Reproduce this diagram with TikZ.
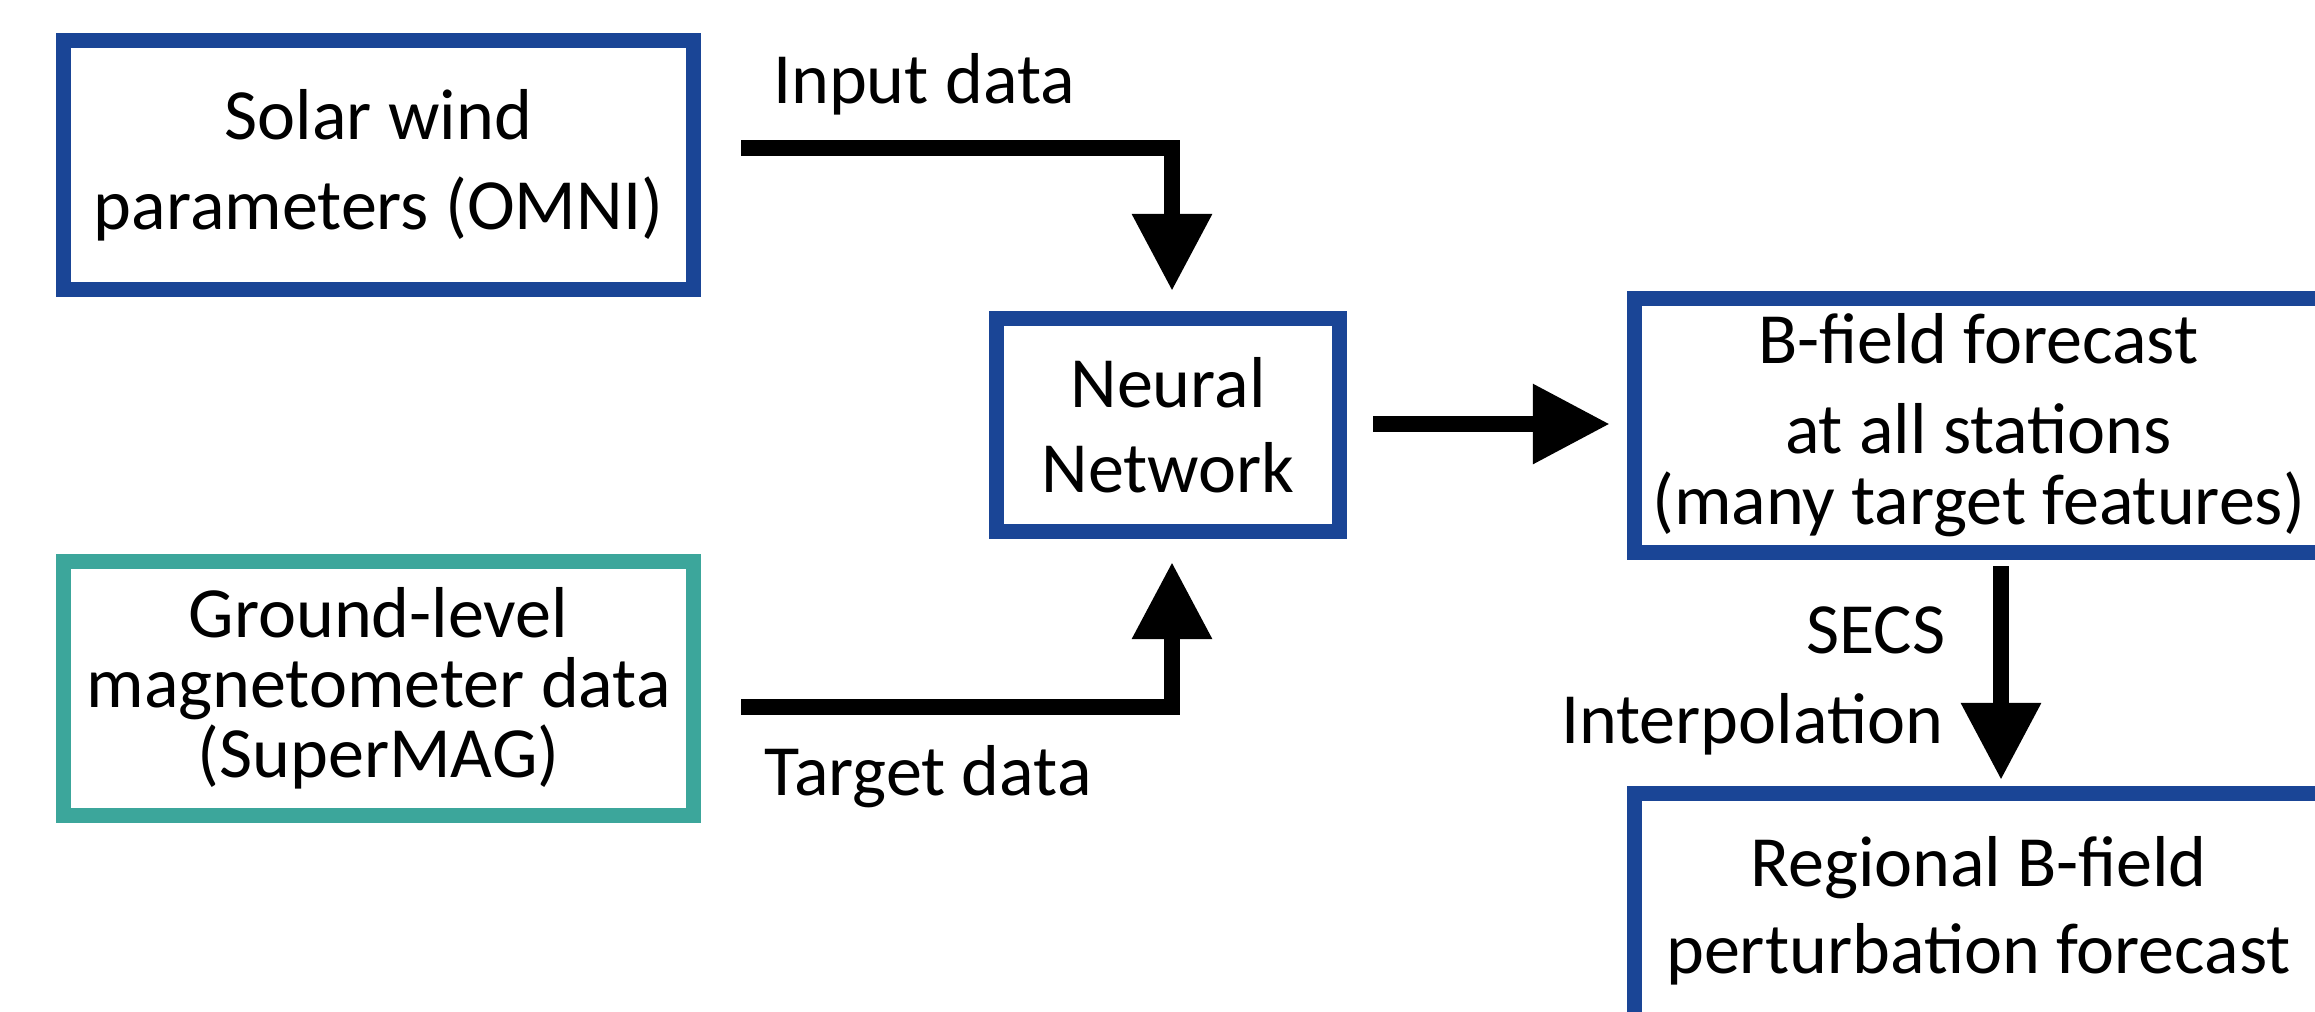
\documentclass[tikz,border=0pt]{standalone}
\usepackage{fontspec}
\setmainfont{Carlito}
\usetikzlibrary{arrows.meta,calc}
\definecolor{boxblue}{RGB}{26,69,150}
\definecolor{boxteal}{RGB}{60,166,155}
\tikzset{box/.style={draw=boxblue, line width=1.5mm, inner sep=0pt, align=center},
  flow/.style={line width=1.6mm, -{Triangle[length=7.7mm,width=7.6mm]}},
  lbl/.style={inner sep=0pt, font=\fontsize{20.5pt}{24pt}\selectfont}}

\begin{document}
\begin{tikzpicture}[x=0.01cm,y=0.01cm]
\useasboundingbox (0,0) rectangle (2315,-1011);
\clip (0,0) rectangle (2315,-1011);
% data sources
\node[box, minimum width=6.3cm, minimum height=2.49cm, font=\fontsize{20.5pt}{25.6pt}\selectfont] (solar) at (378.5,-165) {Solar wind\\parameters (OMNI)};
\node[box, draw=boxteal, minimum width=6.3cm, minimum height=2.54cm, font=\fontsize{20.5pt}{19.9pt}\selectfont] (ground) at (378.5,-688.5) {Ground-level\\magnetometer data\\(SuperMAG)};
% model
\node[box, minimum width=3.43cm, minimum height=2.13cm, font=\fontsize{20.5pt}{24.2pt}\selectfont] (net) at (1168,-425) {Neural\\Network};
% outputs
\node[box, minimum width=6.88cm, minimum height=2.54cm, font=\fontsize{20.5pt}{20.2pt}\selectfont] (bfield) at (1978.5,-425.5) {B-field forecast\\[5.4pt]at all stations\\(many target features)};
\node[box, minimum width=6.88cm, minimum height=2.35cm, font=\fontsize{20.5pt}{24.7pt}\selectfont] (regional) at (1978.5,-911) {Regional B-field\\perturbation forecast};
% arrows
\draw[flow] ($(solar.east)+(40,17)$) -| ($(net.north)+(4,20)$);
\draw[flow] ($(ground.east)+(40,-18.5)$) -| ($(net.south)+(4,-23)$);
\draw[flow] ($(net.east)+(26,1)$) -- ($(bfield.west)+(-17,1.5)$);
\draw[flow] ($(bfield.south)+(22.5,-6)$) -- ($(regional.north)+(22.5,6)$);
% labels
\node[lbl, anchor=base] (inlbl) at (924,-103) {Input data};
\node[lbl, anchor=base] (tgtlbl) at (928,-795) {Target data};
\node[lbl, anchor=base east] (secs) at (1946,-653) {SECS};
\node[lbl, anchor=base east] (interp) at (1944,-743) {Interpolation};
\end{tikzpicture}
\end{document}
